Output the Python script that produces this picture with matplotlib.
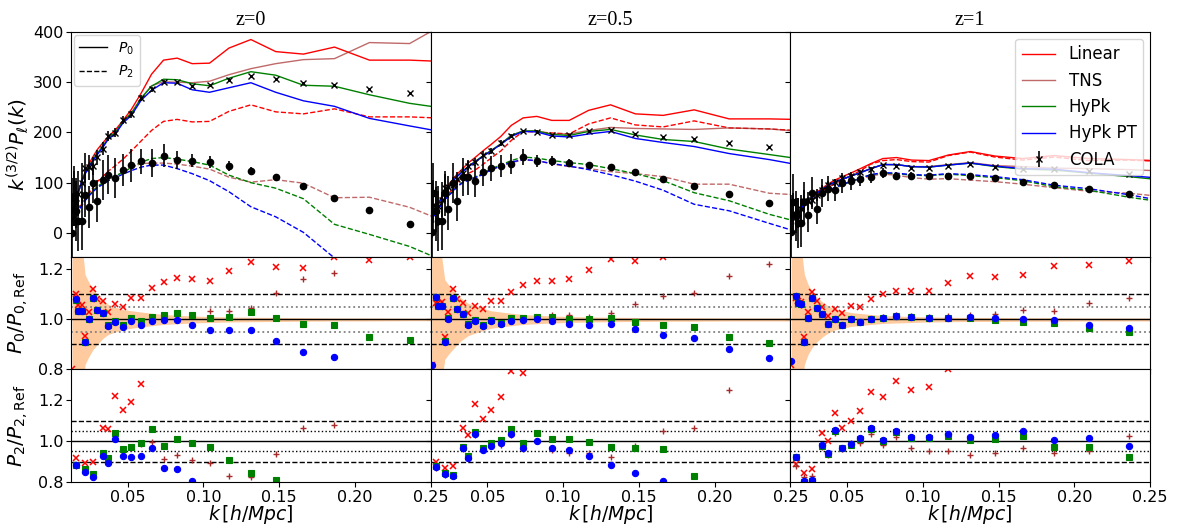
import matplotlib
matplotlib.use("Agg")
import matplotlib.pyplot as plt
import numpy as np
from matplotlib.lines import Line2D

nan = np.nan

# k bins (h/Mpc) of the COLA measurement; models are also given at the right edge
k = [0.0132, 0.0143, 0.0161, 0.0174, 0.0198, 0.0218, 0.0242, 0.0271, 0.0299, 0.0337,
     0.0372, 0.0418, 0.0469, 0.0524, 0.0588, 0.0657, 0.0736, 0.0826, 0.0925, 0.1040,
     0.1168, 0.1313, 0.1477, 0.1660, 0.1865, 0.2096, 0.2361]
k_model = k + [0.2525]

redshifts = ["z=0", "z=0.5", "z=1"]
models = ["Linear", "TNS", "HyPk", "HyPk PT"]

# ---------------- z = 0 ----------------
p0_lin_z0 = [40, 51, 65, 82, 106, 121, 137, 152, 166, 180, 192, 205, 224, 246, 278, 316, 344, 348, 337, 338, 368, 385, 361, 356, 370, 344, 344, 342]
p0_tns_z0 = [40, 51, 64, 81, 104, 118, 132, 146, 158, 173, 189, 200, 222, 239, 268, 293, 301, 300, 299, 302, 315, 327, 337, 345, 347, 379, 377, 405]
p0_hypk_z0 = [40, 51, 64, 81, 104, 118, 132, 146, 158, 173, 189, 200, 222, 238, 268, 292, 306, 305, 297, 293, 308, 321, 314, 294, 292, 275, 258, 251]
p0_pt_z0 = [40, 51, 64, 81, 104, 117, 131, 144, 156, 171, 187, 197, 219, 234, 264, 284, 299, 298, 285, 280, 289, 299, 280, 263, 252, 228, 213, 204]
p2_lin_z0 = [26, 31, 39, 47, 58, 68, 79, 90, 102, 113, 123, 134, 147, 163, 183, 204, 222, 226, 221, 222, 242, 255, 241, 237, 247, 231, 231, 229]
p2_tns_z0 = [25, 30, 38, 46, 56, 65, 74, 84, 92, 100, 106, 113, 121, 130, 138, 139, 139, 137, 133, 127, 111, 101, 106, 99, 70, 71, 51, 31]
p2_hypk_z0 = [25, 30, 38, 46, 56, 65, 74, 84, 92, 100, 106, 113, 121, 130, 141, 148, 150, 147, 142, 135, 115, 100, 89, 68, 17, -3, -27, -48]
p2_pt_z0 = [24, 29, 37, 45, 55, 64, 73, 82, 90, 97, 104, 110, 117, 124, 131, 135, 135, 128, 118, 104, 82, 52, 32, 1, -50, -90, -130, -150]
cola_p0_z0 = [50, 68, 59, 78, 100, 129, 131, 133, 151, 168, 192, 199, 224, 236, 268, 286, 300, 300, 292, 294, 305, 312, 306, 299, 295, 287, 279]
cola_p0_err_z0 = [60, 55, 50, 45, 40, 30, 25, 18, 15, 12, 10, 9, 8, 7, 6, 5, 4, 3, 3, 3, 3, 3, 2, 2, 2, 2, 2]
cola_p2_z0 = [0, 73, 43, 23, 23, 76, 51, 100, 63, 106, 116, 109, 126, 135, 143, 140, 154, 146, 144, 141, 134, 123, 112, 93, 70, 45, 17]
cola_p2_err_z0 = [70, 60, 60, 60, 58, 45, 42, 40, 42, 40, 39, 40, 32, 33, 25, 28, 23, 18, 13, 12, 10, 8, 6, 4, 3, 2, 2]

r0_lin_z0 = [0.80, nan, 1.10, 1.057, 1.057, 0.933, 1.029, 1.123, 1.08, 1.075, 1.031, 1.061, 1.048, 1.087, 1.087, 1.124, 1.149, 1.164, 1.16, 1.155, 1.192, 1.231, 1.211, 1.204, 1.25, 1.237, 1.248]
r0_tns_z0 = [nan, nan, 1.077, 1.035, 1.035, 0.911, 1.002, 1.086, 1.037, 1.027, 0.977, 0.993, 0.977, 1.004, 0.995, 1.011, 1.002, 1.002, 1.017, 1.033, 1.033, 1.047, 1.104, 1.163, 1.184, 1.32, 1.35]
r0_hypk_z0 = [nan, nan, 1.077, 1.035, 1.035, 0.911, 1.0, 1.084, 1.037, 1.027, 0.977, 0.993, 0.977, 1.004, 0.995, 1.011, 1.017, 1.024, 1.016, 1.005, 1.011, 1.029, 1.005, 0.98, 0.977, 0.931, 0.917]
r0_pt_z0 = [nan, nan, 1.08, 1.033, 1.033, 0.909, 1.0, 1.084, 1.036, 1.024, 0.973, 0.989, 0.968, 0.992, 0.977, 0.992, 0.996, 0.996, 0.979, 0.959, 0.956, 0.956, 0.915, 0.871, 0.849, nan, nan]
r2_lin_z0 = [nan, nan, 0.918, nan, nan, 0.895, nan, 0.899, nan, 1.062, 1.057, 1.22, 1.15, 1.193, 1.279, nan, nan, nan, nan, nan, nan, nan, nan, nan, nan, nan, nan]
r2_tns_z0 = [nan, nan, 0.88, nan, nan, 0.858, nan, 0.835, nan, 0.94, 0.912, 1.035, 0.958, 0.965, 0.985, 0.997, 0.912, 0.931, 0.907, 0.894, 0.828, 0.825, 0.935, 1.065, 1.078, nan, nan]
r2_hypk_z0 = [nan, nan, 0.882, nan, nan, 0.861, nan, 0.837, nan, 0.943, 0.915, 1.038, 0.961, 0.969, 0.989, 1.057, 0.975, 1.01, 0.989, 0.969, 0.907, 0.842, 0.812, nan, nan, nan, nan]
r2_pt_z0 = [nan, nan, 0.882, nan, nan, 0.85, nan, 0.825, nan, 0.926, 0.894, 1.01, 0.926, 0.92, 0.926, 0.964, 0.866, 0.861, 0.804, nan, nan, nan, nan, nan, nan, nan, nan]
band_z0 = [0.6, 0.6, 0.5, 0.4, 0.3, 0.18, 0.15, 0.12, 0.1, 0.075, 0.06, 0.05, 0.04, 0.035, 0.03, 0.025, 0.02, 0.017, 0.014, 0.012, 0.01, 0.009, 0.008, 0.007, 0.006, 0.006, 0.005, 0.005]

# ---------------- z = 0.5 ----------------
p0_lin_z05 = [37, 42, 50, 58, 72, 84, 96, 106, 117, 128, 139, 150, 163, 176, 192, 214, 229, 232, 224, 224, 244, 255, 237, 234, 245, 227, 227, 226]
p0_tns_z05 = [37, 42, 50, 57, 70, 82, 92, 103, 113, 123, 132, 142, 153, 164, 177, 194, 203, 203, 197, 197, 204, 210, 208, 207, 206, 209, 207, 203]
p0_hypk_z05 = [37, 42, 50, 57, 70, 82, 92, 103, 113, 123, 132, 142, 153, 164, 177, 194, 203, 203, 196, 194, 202, 206, 195, 186, 182, 167, 156, 149]
p0_pt_z05 = [37, 42, 50, 57, 70, 82, 92, 103, 112, 122, 131, 141, 152, 163, 176, 192, 202, 201, 193, 191, 197, 202, 188, 180, 172, 158, 146, 137]
p2_lin_z05 = [30, 35, 41, 49, 59, 68, 78, 88, 100, 113, 118, 125, 136, 149, 163, 184, 202, 201, 199, 197, 217, 229, 215, 211, 223, 209, 207, 204]
p2_tns_z05 = [28, 33, 38, 47, 57, 66, 74, 82, 92, 100, 105, 110, 117, 127, 132, 140, 145, 144, 137, 132, 128, 122, 118, 112, 97, 97, 79, 76]
p2_hypk_z05 = [29, 34, 39, 48, 58, 67, 75, 83, 93, 101, 106, 111, 118, 128, 135, 144, 151, 149, 144, 140, 136, 128, 118, 104, 80, 64, 37, 24]
p2_pt_z05 = [28, 33, 38, 47, 57, 66, 74, 82, 92, 100, 105, 110, 116, 126, 133, 141, 146, 144, 138, 133, 126, 116, 103, 85, 57, 44, 19, 4]
cola_p0_z05 = [45, 55, 46, 54, 66, 90, 92, 95, 108, 120, 134, 142, 156, 164, 179, 193, 202, 201, 194, 194, 202, 205, 197, 190, 187, 179, 171]
cola_p0_err_z05 = [55, 50, 45, 40, 35, 28, 22, 16, 13, 11, 9, 8, 7, 6, 5, 4, 3, 3, 2, 2, 2, 2, 2, 1, 1, 1, 1]
cola_p2_z05 = [1, 79, 44, 24, 24, 79, 47, 99, 63, 111, 111, 104, 121, 129, 134, 137, 152, 144, 143, 139, 136, 131, 122, 107, 94, 77, 59]
cola_p2_err_z05 = [70, 60, 60, 60, 58, 45, 42, 40, 40, 38, 35, 32, 28, 25, 22, 20, 16, 12, 10, 8, 6, 5, 4, 3, 2, 2, 2]

r0_lin_z05 = [0.817, nan, 1.067, 1.064, 1.071, 0.931, 1.031, 1.12, 1.08, 1.064, 1.027, 1.053, 1.04, 1.075, 1.075, 1.111, 1.137, 1.155, 1.155, 1.16, 1.197, 1.24, 1.235, 1.248, nan, nan, nan]
r0_tns_z05 = [nan, nan, 1.09, 1.053, 1.053, 0.913, 1.004, 1.085, 1.043, 1.023, 0.98, 0.998, 0.977, 0.999, 0.985, 1.004, 1.004, 1.011, 1.017, 1.017, 1.011, 1.024, 1.06, 1.093, 1.104, 1.175, 1.221]
r0_hypk_z05 = [nan, nan, 1.09, 1.053, 1.053, 0.913, 1.004, 1.085, 1.043, 1.023, 0.98, 0.998, 0.977, 0.999, 0.985, 1.004, 1.004, 1.011, 1.009, 1.0, 1.001, 1.004, 0.991, 0.976, 0.971, 0.931, 0.907]
r0_pt_z05 = [0.817, nan, 1.091, 1.053, 1.053, 0.911, 1.001, 1.084, 1.041, 1.02, 0.977, 0.995, 0.973, 0.995, 0.981, 0.993, 0.997, 1.0, 0.993, 0.981, 0.979, 0.981, 0.96, 0.937, 0.924, 0.88, 0.844]
r2_lin_z05 = [nan, nan, 0.899, nan, nan, 0.866, nan, 0.879, nan, 1.062, 1.029, 1.18, 1.106, 1.152, 1.217, 1.345, 1.332, nan, nan, nan, nan, nan, nan, nan, nan, nan, nan]
r2_tns_z05 = [nan, nan, 0.87, nan, nan, 0.835, nan, 0.827, nan, 0.96, 0.915, 1.03, 0.955, 0.98, 0.98, 1.03, 0.96, 1.0, 0.954, 0.944, 0.94, 0.923, 0.975, 1.051, 1.062, 1.248, nan]
r2_hypk_z05 = [nan, nan, 0.879, nan, nan, 0.842, nan, 0.833, nan, 0.972, 0.926, 1.046, 0.967, 0.989, 1.005, 1.057, 0.993, 1.038, 1.01, 1.01, 0.997, 0.972, 0.964, 0.961, 0.828, nan, nan]
r2_pt_z05 = [nan, nan, 0.874, nan, nan, 0.837, nan, 0.83, nan, 0.964, 0.918, 1.034, 0.956, 0.975, 0.992, 1.034, 0.967, 1.0, 0.964, 0.954, 0.928, 0.882, 0.846, 0.807, nan, nan, nan]
band_z05 = [0.6, 0.6, 0.5, 0.4, 0.25, 0.16, 0.14, 0.12, 0.1, 0.08, 0.065, 0.055, 0.045, 0.035, 0.03, 0.025, 0.02, 0.017, 0.014, 0.012, 0.01, 0.009, 0.008, 0.007, 0.007, 0.006, 0.006, 0.006]

# ---------------- z = 1 ----------------
p0_lin_z1 = [26, 30, 37, 43, 51, 58, 66, 73, 81, 89, 97, 105, 112, 119, 128, 138, 148, 150, 145, 144, 155, 162, 153, 148, 154, 148, 146, 144]
p0_tns_z1 = [26, 30, 37, 42, 50, 57, 64, 72, 79, 87, 94, 101, 107, 113, 120, 128, 136, 136, 132, 132, 136, 140, 134, 132, 129, 128, 126, 124]
p0_hypk_z1 = [26, 30, 37, 42, 50, 57, 64, 72, 79, 87, 94, 101, 107, 113, 120, 128, 136, 136, 132, 131, 135, 139, 132, 127, 125, 119, 112, 107]
p0_pt_z1 = [26, 30, 37, 42, 50, 57, 64, 72, 79, 87, 94, 101, 107, 113, 120, 128, 136, 136, 132, 131, 135, 139, 133, 128, 127, 120, 114, 110]
p2_lin_z1 = [25, 29, 33, 40, 47, 54, 62, 70, 77, 84, 90, 98, 106, 114, 124, 137, 144, 146, 142, 141, 154, 161, 151, 145, 151, 144, 145, 143]
p2_tns_z1 = [24, 28, 33, 39, 46, 52, 59, 66, 72, 77, 82, 88, 95, 103, 107, 114, 117, 115, 110, 107, 108, 105, 102, 97, 90, 83, 79, 74]
p2_hypk_z1 = [24, 28, 34, 40, 47, 53, 60, 67, 72, 77, 82, 89, 96, 102, 109, 116, 119, 118, 115, 114, 117, 114, 110, 104, 92, 85, 71, 64]
p2_pt_z1 = [24, 28, 34, 40, 47, 53, 60, 67, 73, 78, 84, 90, 97, 102, 109, 116, 120, 119, 116, 115, 118, 116, 112, 106, 95, 88, 76, 67]
cola_p0_z1 = [31, 40, 34, 40, 47, 63, 64, 66, 75, 85, 96, 101, 110, 113, 121, 128, 135, 134, 130, 130, 134, 138, 132, 128, 127, 123, 118]
cola_p0_err_z1 = [45, 40, 35, 30, 28, 22, 18, 14, 12, 10, 8, 7, 6, 5, 4, 3, 3, 2, 2, 2, 2, 2, 1, 1, 1, 1, 1]
cola_p2_z1 = [1, 62, 34, 19, 19, 62, 36, 80, 47, 79, 88, 85, 100, 104, 108, 111, 119, 113, 114, 113, 114, 113, 109, 101, 95, 87, 77]
cola_p2_err_z1 = [60, 55, 50, 50, 48, 40, 35, 32, 30, 28, 25, 22, 20, 18, 15, 12, 10, 8, 7, 6, 5, 4, 3, 3, 2, 2, 2]

r0_lin_z1 = [0.817, nan, 1.084, 1.075, 1.071, 0.928, 1.031, 1.111, 1.075, 1.051, 1.015, 1.041, 1.024, 1.053, 1.051, 1.08, 1.101, 1.115, 1.115, 1.115, 1.144, 1.173, 1.168, 1.177, 1.213, 1.217, 1.235]
r0_tns_z1 = [nan, nan, 1.09, 1.061, 1.058, 0.911, 1.004, 1.084, 1.047, 1.021, 0.981, 1.001, 0.977, 1.0, 0.988, 1.001, 1.01, 1.016, 1.015, 1.01, 1.012, 1.018, 1.02, 1.037, 1.033, 1.067, 1.084]
r0_hypk_z1 = [nan, nan, 1.095, 1.064, 1.061, 0.911, 1.004, 1.084, 1.047, 1.021, 0.981, 1.001, 0.977, 1.0, 0.988, 1.001, 1.007, 1.013, 1.011, 1.004, 1.004, 1.004, 0.997, 0.991, 0.987, 0.964, 0.948]
r0_pt_z1 = [0.833, nan, 1.095, 1.064, 1.061, 0.911, 1.004, 1.084, 1.047, 1.021, 0.981, 1.001, 0.977, 1.0, 0.988, 1.001, 1.007, 1.013, 1.011, 1.004, 1.004, 1.011, 1.007, 1.0, 0.997, 0.977, 0.964]
r2_lin_z1 = [nan, nan, 0.887, nan, nan, 0.846, nan, 0.863, nan, 1.038, 1.0, 1.139, 1.062, 1.098, 1.149, 1.239, 1.214, 1.296, 1.25, 1.263, 1.351, nan, nan, nan, nan, nan, nan]
r2_tns_z1 = [nan, nan, 0.879, nan, nan, 0.825, nan, 0.83, nan, 0.97, 0.93, 1.04, 0.96, 0.993, 0.989, 1.034, 0.98, 1.02, 0.967, 0.951, 0.951, 0.931, 0.94, 0.964, 0.943, 0.951, 1.025]
r2_hypk_z1 = [nan, nan, 0.92, nan, nan, 0.802, nan, 0.806, nan, 0.977, 0.935, 1.051, 0.964, 0.98, 1.01, 1.059, 1.0, 1.046, 1.013, 1.013, 1.025, 1.005, 1.01, 1.025, 0.972, 0.972, 0.92]
r2_pt_z1 = [nan, nan, 0.923, nan, nan, 0.804, nan, 0.809, nan, 0.982, 0.94, 1.054, 0.967, 0.984, 1.013, 1.062, 1.005, 1.051, 1.021, 1.021, 1.034, 1.021, 1.028, 1.049, 1.005, 1.013, 0.974]
band_z1 = [0.6, 0.6, 0.5, 0.4, 0.28, 0.18, 0.14, 0.11, 0.09, 0.07, 0.055, 0.042, 0.035, 0.028, 0.024, 0.02, 0.016, 0.014, 0.012, 0.01, 0.009, 0.008, 0.008, 0.007, 0.007, 0.006, 0.006, 0.006]

p0_models = [[p0_lin_z0, p0_tns_z0, p0_hypk_z0, p0_pt_z0],
             [p0_lin_z05, p0_tns_z05, p0_hypk_z05, p0_pt_z05],
             [p0_lin_z1, p0_tns_z1, p0_hypk_z1, p0_pt_z1]]
p2_models = [[p2_lin_z0, p2_tns_z0, p2_hypk_z0, p2_pt_z0],
             [p2_lin_z05, p2_tns_z05, p2_hypk_z05, p2_pt_z05],
             [p2_lin_z1, p2_tns_z1, p2_hypk_z1, p2_pt_z1]]
cola = [(cola_p0_z0, cola_p0_err_z0, cola_p2_z0, cola_p2_err_z0),
        (cola_p0_z05, cola_p0_err_z05, cola_p2_z05, cola_p2_err_z05),
        (cola_p0_z1, cola_p0_err_z1, cola_p2_z1, cola_p2_err_z1)]
r0 = [[r0_lin_z0, r0_tns_z0, r0_hypk_z0, r0_pt_z0],
      [r0_lin_z05, r0_tns_z05, r0_hypk_z05, r0_pt_z05],
      [r0_lin_z1, r0_tns_z1, r0_hypk_z1, r0_pt_z1]]
r2 = [[r2_lin_z0, r2_tns_z0, r2_hypk_z0, r2_pt_z0],
      [r2_lin_z05, r2_tns_z05, r2_hypk_z05, r2_pt_z05],
      [r2_lin_z1, r2_tns_z1, r2_hypk_z1, r2_pt_z1]]
bands = [band_z0, band_z05, band_z1]

colors = ['red', 'brown', 'green', 'blue']
alphas = [1.0, 0.7, 1.0, 1.0]
mstyle = [dict(marker='x', ms=4.5, mew=1.1), dict(marker='+', ms=5, mew=1.0),
          dict(marker='s', ms=4.2, mew=0.8), dict(marker='o', ms=4.5, mew=0.8)]

fig = plt.figure(figsize=(11.79, 5.24), dpi=100)
axs = fig.subplots(3, 3, sharex=True, sharey='row',
                   gridspec_kw=dict(height_ratios=[2, 1, 1], hspace=0, wspace=0))
fig.subplots_adjust(left=0.0602, right=0.9754, top=0.9389, bottom=0.0802)

for j in range(3):
    ax = axs[0, j]
    for m in range(4):
        ax.plot(k_model, p0_models[j][m], '-', color=colors[m], alpha=alphas[m], lw=1.0, label=models[m])
        ax.plot(k_model, p2_models[j][m], '--', color=colors[m], alpha=alphas[m], lw=1.0)
    c0, e0, c2, e2 = cola[j]
    ax.errorbar(k, c0, yerr=e0, fmt='x', color='k', ms=4, mew=1.0, elinewidth=1.2, capsize=0, label='COLA')
    ax.errorbar(k, c2, yerr=e2, fmt='o', color='k', ms=4.5, elinewidth=1.2, capsize=0)
    ax.set_title(redshifts[j], fontsize=14.5, family='Liberation Serif', pad=5)

    # P0 ratio
    ax = axs[1, j]
    ax.fill_between(k_model, [1 - b for b in bands[j]], [1 + b for b in bands[j]],
                    color='#ff7f0e', alpha=0.4, lw=0)
    ax.axhline(1.0, color='k', lw=1.0)
    for yy in (0.9, 1.1):
        ax.axhline(yy, color='k', ls='--', lw=1.0)
    for yy in (0.95, 1.05):
        ax.axhline(yy, color='grey', ls=':', lw=1.3)
    for m in range(4):
        ax.plot(k, r0[j][m], ls='none', color=colors[m], **mstyle[m])

    # P2 ratio
    ax = axs[2, j]
    ax.axhline(1.0, color='k', lw=1.0)
    for yy in (0.9, 1.1):
        ax.axhline(yy, color='k', ls='--', lw=1.0)
    for yy in (0.95, 1.05):
        ax.axhline(yy, color='k', ls=':', lw=1.0)
    for m in range(4):
        ax.plot(k, r2[j][m], ls='none', color=colors[m], **mstyle[m])
    ax.set_xlabel(r'$k\,[h/Mpc]$', fontsize=13.5, labelpad=-1)

for ax in axs.flat:
    ax.set_xlim(0.0125, 0.25)
    ax.tick_params(labelsize=11.5, pad=2)
axs[2, 0].set_xticks([0.05, 0.10, 0.15, 0.20, 0.25])
axs[2, 0].set_xticklabels(['0.05', '0.10', '0.15', '0.20', '0.25'])

axs[0, 0].set_ylim(-48, 400)
axs[0, 0].set_yticks([0, 100, 200, 300, 400])
axs[1, 0].set_ylim(0.8, 1.25)
axs[1, 0].set_yticks([0.8, 1.0, 1.2])
axs[2, 0].set_ylim(0.8, 1.35)
axs[2, 0].set_yticks([0.8, 1.0, 1.2])

axs[0, 0].set_ylabel(r'$k^{(3/2)}P_\ell(k)$', fontsize=14.5, labelpad=1)
axs[1, 0].set_ylabel(r'$P_0/P_{0,\rm Ref}$', fontsize=14.5, labelpad=2)
axs[2, 0].set_ylabel(r'$P_2/P_{2,\rm Ref}$', fontsize=14.5, labelpad=2)
fig.align_ylabels(axs[:, 0])

ell_handles = [Line2D([], [], color='k', ls='-', lw=1.0), Line2D([], [], color='k', ls='--', lw=1.0)]
axs[0, 0].legend(ell_handles, [r'$P_0$', r'$P_2$'], loc='upper left', fontsize=10,
                 borderaxespad=0.2)
h, l = axs[0, 2].get_legend_handles_labels()
axs[0, 2].legend(h, l, loc='upper right', fontsize=12, borderaxespad=0.4)

fig.savefig('out.png', dpi=100)
